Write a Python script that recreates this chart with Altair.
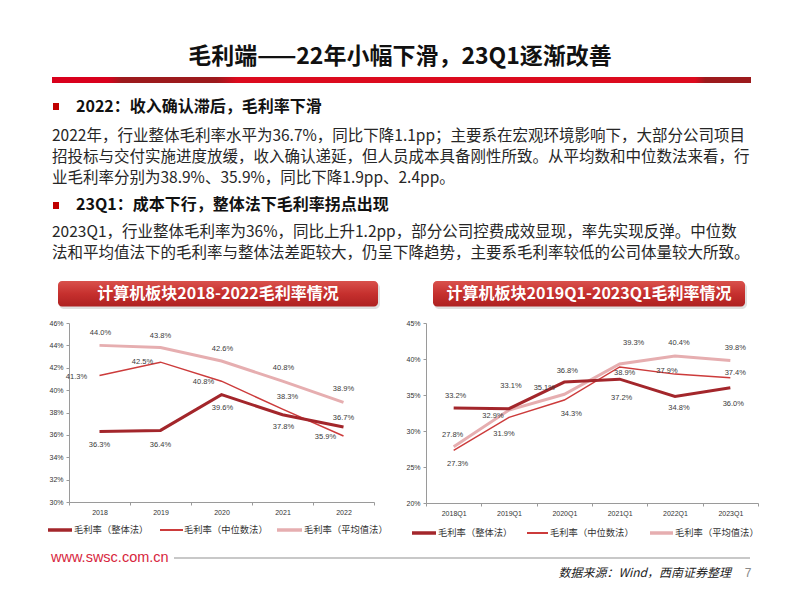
import altair as alt
import pandas as pd

# ---------------- data ----------------
YEARS = ["2018", "2019", "2020", "2021", "2022"]
Y_WHOLE = [36.3, 36.4, 39.6, 37.8, 36.7]
Y_MEDIAN = [41.3, 42.5, 40.8, 38.3, 35.9]
Y_MEAN = [44.0, 43.8, 42.6, 40.8, 38.9]

QUARTERS = ["2018Q1", "2019Q1", "2020Q1", "2021Q1", "2022Q1", "2023Q1"]
Q_WHOLE = [33.2, 33.1, 36.8, 37.2, 34.8, 36.0]
Q_MEDIAN = [27.3, 31.9, 34.3, 38.9, 37.9, 37.4]
Q_MEAN = [27.8, 32.9, 35.1, 39.3, 40.4, 39.8]

SERIES = ["毛利率（整体法）", "毛利率（中位数法）", "毛利率（平均值法）"]

TITLE = "毛利端——22年小幅下滑，23Q1逐渐改善"
HEAD1 = "2022：收入确认滞后，毛利率下滑"
PARA1 = [
    "2022年，行业整体毛利率水平为36.7%，同比下降1.1pp；主要系在宏观环境影响下，大部分公司项目",
    "招投标与交付实施进度放缓，收入确认递延，但人员成本具备刚性所致。从平均数和中位数法来看，行",
    "业毛利率分别为38.9%、35.9%，同比下降1.9pp、2.4pp。",
]
HEAD2 = "23Q1：成本下行，整体法下毛利率拐点出现"
PARA2 = [
    "2023Q1，行业整体毛利率为36%，同比上升1.2pp，部分公司控费成效显现，率先实现反弹。中位数",
    "法和平均值法下的毛利率与整体法差距较大，仍呈下降趋势，主要系毛利率较低的公司体量较大所致。",
]
LEFT_TITLE = "计算机板块2018-2022毛利率情况"
RIGHT_TITLE = "计算机板块2019Q1-2023Q1毛利率情况"
SITE = "www.swsc.com.cn"
SOURCE = "数据来源：Wind，西南证券整理"
PAGE = "7"

# ---------------- styles ----------------
FONT = "Noto Sans CJK SC"
COLORS = ["#a3262b", "#cc3b3b", "#e6aeb0"]
WIDTHS = [3, 1.5, 3]
LABEL_FONT = "Liberation Sans"

LEFT_OFFS = [
    [(0, 13.5), (0, 14.5), (1, 13), (1, 12), (0, -9)],
    [(-23, 1), (-18, 0), (-18, 1), (5, -12), (-18, 1)],
    [(1, -12), (0, -12), (1, -12), (1, -13), (0, -13)],
]
RIGHT_OFFS = [
    [(2, -12), (2, -23), (3, -11), (2, 19), (4, 12), (3, 16)],
    [(4, 14), (-5, 17), (7, 14), (5, 6), (-8, -3), (5, -5)],
    [(-1, -12), (-16, 6), (-20, -6), (14, -21), (4, -13), (5, -12)],
]

W, H = 786, 586


def one():
    return pd.DataFrame({"a": [0]})


def txt(s, x, y, size, color="#262626", weight="normal", align="left",
        font=FONT, style="normal"):
    return alt.Chart(pd.DataFrame({"t": [s]})).mark_text(
        align=align, baseline="middle", fontSize=size, fontWeight=weight,
        font=font, color=color, fontStyle=style
    ).encode(x=alt.value(x), y=alt.value(y), text="t:N")


def rect(x, x2, y, y2, fill, **kw):
    return alt.Chart(one()).mark_rect(fill=fill, **kw).encode(
        x=alt.value(x), x2=alt.value(x2), y=alt.value(y), y2=alt.value(y2))


def hline(x, x2, y, color, width):
    return alt.Chart(one()).mark_rule(color=color, strokeWidth=width).encode(
        x=alt.value(x), x2=alt.value(x2), y=alt.value(y), y2=alt.value(y))


def panel(cats, series_vals, xrange, ydom, yrange, yvals, xoff, yoff, offs):
    xenc = alt.X("period:N", bandPosition=0.5,
                 scale=alt.Scale(type="band", domain=cats, range=xrange,
                                 paddingInner=0, paddingOuter=0),
                 axis=alt.Axis(orient="bottom", offset=yoff, tickBand="extent",
                               labelAngle=0, labelFontSize=7, labelFont="Liberation Sans",
                               labelColor="#333", domainColor="#9a9a9a",
                               tickColor="#9a9a9a", tickSize=3, labelPadding=3,
                               grid=False, title=None))
    yenc = alt.Y("value:Q",
                 scale=alt.Scale(domain=ydom, range=yrange, zero=False, nice=False),
                 axis=alt.Axis(orient="left", offset=xoff, values=yvals,
                               labelExpr="datum.value + '%'", labelFontSize=7,
                               labelFont="Liberation Sans", labelColor="#333",
                               domainColor="#9a9a9a", tickColor="#9a9a9a",
                               tickSize=3, labelPadding=3, grid=False, title=None))
    layers = []
    for si in [2, 1, 0]:
        df = pd.DataFrame({"period": cats, "value": series_vals[si]})
        layers.append(alt.Chart(df).mark_line(
            color=COLORS[si], strokeWidth=WIDTHS[si], strokeJoin="miter"
        ).encode(x=xenc, y=yenc))
    for si in range(3):
        for i, c in enumerate(cats):
            dx, dy = offs[si][i]
            df = pd.DataFrame({"period": [c], "value": [series_vals[si][i]]})
            layers.append(alt.Chart(df).transform_calculate(
                lbl="format(datum.value, '.1f') + '%'"
            ).mark_text(
                dx=dx, dy=dy, fontSize=7.5, font=LABEL_FONT, color="#3a3a3a",
                align="center", baseline="middle"
            ).encode(x=xenc, y=yenc, text="lbl:N"))
    return alt.layer(*layers)


# ---------- left & right charts ----------
left = panel(YEARS, [Y_WHOLE, Y_MEDIAN, Y_MEAN], [61, 366], [30, 46], [494, 315],
             list(range(30, 47, 2)), -61, 494 - H, LEFT_OFFS)
right = panel(QUARTERS, [Q_WHOLE, Q_MEDIAN, Q_MEAN], [418, 750], [20, 45], [495, 315],
              list(range(20, 46, 5)), -418, 495 - H, RIGHT_OFFS)

# ---------- decorations ----------
deco = []
deco.append(txt(TITLE, 392, 49, 23, color="#111", weight="bold", align="center"))
bar_grad = alt.LinearGradient(
    gradient="linear", x1=0, x2=1, y1=0, y2=0,
    stops=[alt.GradientStop(offset=0, color="#d9001c"),
           alt.GradientStop(offset=0.08, color="#d9001c"),
           alt.GradientStop(offset=0.1, color="#9c1a1c"),
           alt.GradientStop(offset=0.235, color="#9c1a1c"),
           alt.GradientStop(offset=0.265, color="#dc0a1e"),
           alt.GradientStop(offset=0.92, color="#dc0a1e"),
           alt.GradientStop(offset=0.935, color="#9c1a1c"),
           alt.GradientStop(offset=1, color="#9c1a1c")])
deco.append(rect(44, 743, 69, 75, bar_grad))

# bullets and paragraphs
deco.append(rect(45, 51, 95, 102, "#c00000"))
deco.append(txt(HEAD1, 68, 99, 16, color="#111", weight="bold"))
for i, line in enumerate(PARA1):
    deco.append(txt(line, 44, 128 + i * 21, 15.5, color="#262626"))
deco.append(rect(45, 51, 194, 201, "#c00000"))
deco.append(txt(HEAD2, 68, 197, 16, color="#111", weight="bold"))
for i, line in enumerate(PARA2):
    deco.append(txt(line, 44, 224 + i * 21, 15.5, color="#262626"))

# chart banners
ban_grad = alt.LinearGradient(
    gradient="linear", x1=0, x2=0, y1=0, y2=1,
    stops=[alt.GradientStop(offset=0, color="#d9514c"),
           alt.GradientStop(offset=0.5, color="#c6302e"),
           alt.GradientStop(offset=1, color="#ae2121")])
for (x0, x1, title) in [(50, 370, LEFT_TITLE), (425, 737, RIGHT_TITLE)]:
    deco.append(rect(x0 + 1, x1 + 2, 275, 301, "#000", cornerRadius=5, opacity=0.12))
    deco.append(rect(x0, x1, 273, 298.5, ban_grad, cornerRadius=4))
    deco.append(txt(title, (x0 + x1) / 2, 286, 16, color="#ffffff", weight="bold",
                    align="center"))

# legends
LEG_FONT_SIZE = 9.3
for (y, items) in [
    (522, [(40, 64, 66), (152, 175, 176), (269, 294, 296)]),
    (525, [(404, 428, 430), (519, 540, 542), (642, 665, 667)]),
]:
    for si, (a, b, t) in enumerate(items):
        deco.append(hline(a, b, y, COLORS[si], WIDTHS[si] + 0.5))
        deco.append(txt(SERIES[si], t, y, LEG_FONT_SIZE, color="#333"))

# footer
deco.append(txt(SITE, 43, 550, 14.5, color="#d7263d", font="Liberation Sans"))
deco.append(hline(166, 742, 550, "#c8c8c8", 2))
deco.append(txt(SOURCE, 723, 565, 12, color="#222", align="right", style="italic"))
deco.append(txt(PAGE, 740, 565, 12, color="#888", align="center",
                font="Liberation Sans"))

chart = alt.layer(left, right, *deco).resolve_scale(
    x="independent", y="independent"
).properties(
    width=W, height=H, padding=0,
    autosize=alt.AutoSizeParams(type="none"),
    background="white",
).configure_view(stroke=None)

chart.save("out.html", embed_options={"renderer": "svg", "actions": False})
